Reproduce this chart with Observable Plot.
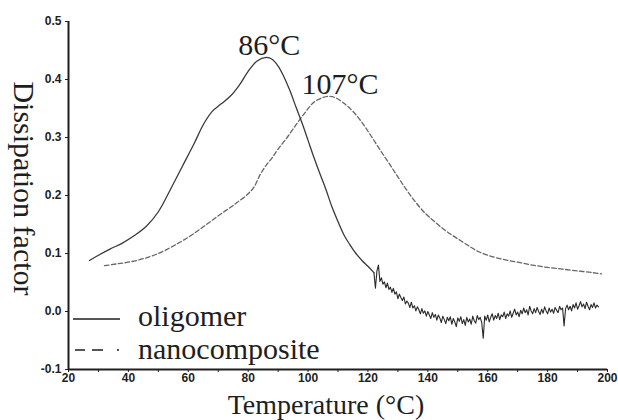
<!DOCTYPE html>
<html><head><meta charset="utf-8">
<script src="https://cdn.jsdelivr.net/npm/d3@7"></script>
<script src="https://cdn.jsdelivr.net/npm/@observablehq/plot@0.6"></script>
<style>
html,body{margin:0;padding:0;background:#fff;}
#chart{position:relative;width:618px;height:420px;overflow:hidden;}
#chart svg.legend{position:absolute;left:0;top:0;pointer-events:none;}
</style></head><body><div id="chart"></div>
<script>
// ---- axis data ----
const xDomain = [20, 200];
const yDomain = [-0.1, 0.5];
const xTicks = [20,30,40,50,60,70,80,90,100,110,120,130,140,150,160,170,180,190,200];
const xTickLabels = ["20","","40","","60","","80","","100","","120","","140","","160","","180","","200"];
const yTicks = [-0.1, 0, 0.1, 0.2, 0.3, 0.4, 0.5];
const yTickLabels = ["-0.1","0.0","0.1","0.2","0.3","0.4","0.5"];
const xTitle = "Temperature (°C)";
const yTitle = "Dissipation factor";
const seriesNames = ["oligomer", "nanocomposite"];
const peakLabels = ["86°C", "107°C"];

// ---- oligomer (solid), smooth part ----
const oligomerT = [27,30,34,38,42,46,50,54,58,62,65,68,71,74,77,80,83,86,88,90,92,94,96,98,100,102,104,106,108,110,112,114,116,118,120,122];
const oligomerY = [0.088,0.097,0.108,0.118,0.131,0.147,0.172,0.210,0.250,0.290,0.322,0.345,0.358,0.371,0.390,0.414,0.432,0.438,0.435,0.423,0.404,0.380,0.352,0.325,0.295,0.265,0.237,0.210,0.180,0.155,0.132,0.115,0.100,0.088,0.078,0.067];
// ---- oligomer (solid), noisy tail ----
const oligomerNoiseT = [122,122.5,123,123.5,124,124.5,125,125.5,126,126.5,127,127.5,128,128.5,129,129.5,130,130.5,131,131.5,
  132,132.5,133,133.5,134,134.5,135,135.5,136,136.5,137,137.5,138,138.5,139,139.5,140,140.5,141,141.5,
  142,142.5,143,143.5,144,144.5,145,145.5,146,146.5,147,147.5,148,148.5,149,149.5,150,150.5,151,151.5,
  152,152.5,153,153.5,154,154.5,155,155.5,156,156.5,157,157.5,158,158.5,159,159.5,160,160.5,161,161.5,
  162,162.5,163,163.5,164,164.5,165,165.5,166,166.5,167,167.5,168,168.5,169,169.5,170,170.5,171,171.5,
  172,172.5,173,173.5,174,174.5,175,175.5,176,176.5,177,177.5,178,178.5,179,179.5,180,180.5,181,181.5,
  182,182.5,183,183.5,184,184.5,185,185.5,186,186.5,187,187.5,188,188.5,189,189.5,190,190.5,191,191.5,
  192,192.5,193,193.5,194,194.5,195,195.5,196,196.5,197];
const oligomerNoiseY = [0.067,0.040,0.070,0.080,0.052,0.058,0.047,0.051,0.041,0.049,0.038,0.042,0.033,0.040,0.030,0.034,0.022,0.030,0.024,0.019,
  0.025,0.013,0.018,0.014,0.007,0.016,0.006,0.010,0.001,0.008,0.003,-0.004,0.005,-0.003,0.001,-0.008,0.000,-0.006,-0.012,-0.002,
  -0.010,-0.005,-0.015,-0.006,-0.011,-0.019,-0.008,-0.014,-0.021,-0.010,-0.016,-0.009,-0.022,-0.012,-0.018,-0.026,-0.011,-0.017,-0.009,-0.021,
  -0.014,-0.024,-0.010,-0.018,-0.013,-0.022,-0.008,-0.016,-0.020,-0.007,-0.014,-0.010,-0.019,-0.046,-0.008,-0.015,-0.006,-0.018,-0.010,-0.004,
  -0.015,-0.007,-0.012,-0.003,-0.014,-0.006,-0.009,-0.001,-0.012,-0.004,-0.008,0.001,-0.010,-0.003,0.004,-0.006,-0.001,-0.009,0.002,-0.004,
  0.006,-0.002,0.003,-0.006,0.009,0.001,-0.004,0.005,-0.002,0.007,0.000,-0.005,0.004,-0.003,0.008,0.001,-0.004,0.006,-0.001,0.004,
  -0.003,0.007,0.002,-0.002,0.009,0.003,0.006,-0.025,0.005,0.011,0.003,0.009,0.001,0.012,0.006,0.015,0.004,0.010,0.017,0.008,
  0.013,0.005,0.016,0.009,0.003,0.012,0.007,0.015,0.006,0.011,0.008];

// ---- nanocomposite (dashed) ----
const nanoT = [32,36,40,45,50,55,60,65,70,75,80,82,84,86,88,90,93,96,99,102,105,107,109,112,115,118,121,124,127,130,133,136,139,142,145,148,151,154,157,160,165,170,175,180,185,190,195,198];
const nanoY = [0.079,0.082,0.085,0.091,0.100,0.113,0.128,0.146,0.165,0.183,0.203,0.215,0.236,0.252,0.265,0.280,0.300,0.322,0.343,0.361,0.369,0.371,0.369,0.359,0.345,0.326,0.303,0.279,0.256,0.232,0.209,0.188,0.170,0.156,0.143,0.132,0.122,0.112,0.103,0.097,0.090,0.085,0.080,0.076,0.073,0.070,0.067,0.065];

const oligomer = oligomerT.map((t, i) => ({t, v: oligomerY[i]}));
const oligomerNoise = oligomerNoiseT.map((t, i) => ({t, v: oligomerNoiseY[i]}));
const nano = nanoT.map((t, i) => ({t, v: nanoY[i]}));
const peakO = d3.greatest(oligomer, d => d.v);
const peakN = d3.greatest(nano, d => d.v);

const serif = "'Liberation Serif', 'Times New Roman', serif";
const ink = "#1e1e1e";

const plot = Plot.plot({
  width: 618, height: 420,
  marginLeft: 68, marginRight: 11, marginTop: 21, marginBottom: 51,
  style: {fontFamily: "'Liberation Sans', Arial, sans-serif", fontSize: "12px", fontWeight: "bold", color: ink, background: "#fff", overflow: "visible"},
  x: {domain: xDomain, ticks: xTicks, tickFormat: d => xTickLabels[xTicks.indexOf(d)], tickSize: 3, tickPadding: 1, label: null},
  y: {domain: yDomain, ticks: yTicks, tickFormat: d => yTickLabels[yTicks.indexOf(d)], tickSize: 3, tickPadding: 4, label: null},
  marks: [
    Plot.line(nano, {x: "t", y: "v", stroke: "#666", strokeWidth: 1.3, strokeDasharray: "4.5,2.5", curve: "catmull-rom"}),
    Plot.line(oligomer, {x: "t", y: "v", stroke: "#3a3a3a", strokeWidth: 1.3, curve: "catmull-rom"}),
    Plot.line(oligomerNoise, {x: "t", y: "v", stroke: "#2a2a2a", strokeWidth: 1.1}),
    Plot.ruleX([xDomain[0]], {stroke: ink, strokeWidth: 2}),
    Plot.ruleY([yDomain[0]], {stroke: ink, strokeWidth: 2}),
    Plot.text([peakO], {x: "t", y: "v", text: () => peakLabels[0], dx: 3, dy: -2, lineAnchor: "bottom", fontFamily: serif, fontSize: 30, fontWeight: "normal", fill: ink}),
    Plot.text([peakN], {x: "t", y: "v", text: () => peakLabels[1], dx: 11, dy: -2, lineAnchor: "bottom", fontFamily: serif, fontSize: 30, fontWeight: "normal", fill: ink}),
    Plot.text([xTitle], {frameAnchor: "bottom", text: d => d, dx: -12, dy: 44, lineAnchor: "bottom", fontFamily: serif, fontSize: 28, fontWeight: "normal", fill: ink}),
    Plot.text([yTitle], {frameAnchor: "left", text: d => d, textAnchor: "middle", dx: -45, dy: -7, rotate: 90, lineAnchor: "middle", fontFamily: serif, fontSize: 30, fontWeight: "normal", fill: ink})
  ]
});
const chart = document.getElementById("chart");
chart.appendChild(plot);

// ---- in-plot legend ----
const lg = d3.create("svg").attr("class", "legend").attr("width", 618).attr("height", 420);
lg.append("line").attr("x1", 73).attr("x2", 120).attr("y1", 319).attr("y2", 319)
  .attr("stroke", ink).attr("stroke-width", 1.6);
lg.append("path").attr("d", "M75,350H120").attr("stroke", ink).attr("stroke-width", 1.6)
  .attr("stroke-dasharray", "10,7,11,14,2,100");
lg.selectAll("text").data(seriesNames).join("text")
  .attr("x", 138).attr("y", (d, i) => i === 0 ? 326 : 359)
  .attr("font-family", serif).attr("font-size", 30).attr("fill", ink).text(d => d);
chart.appendChild(lg.node());
</script></body></html>
